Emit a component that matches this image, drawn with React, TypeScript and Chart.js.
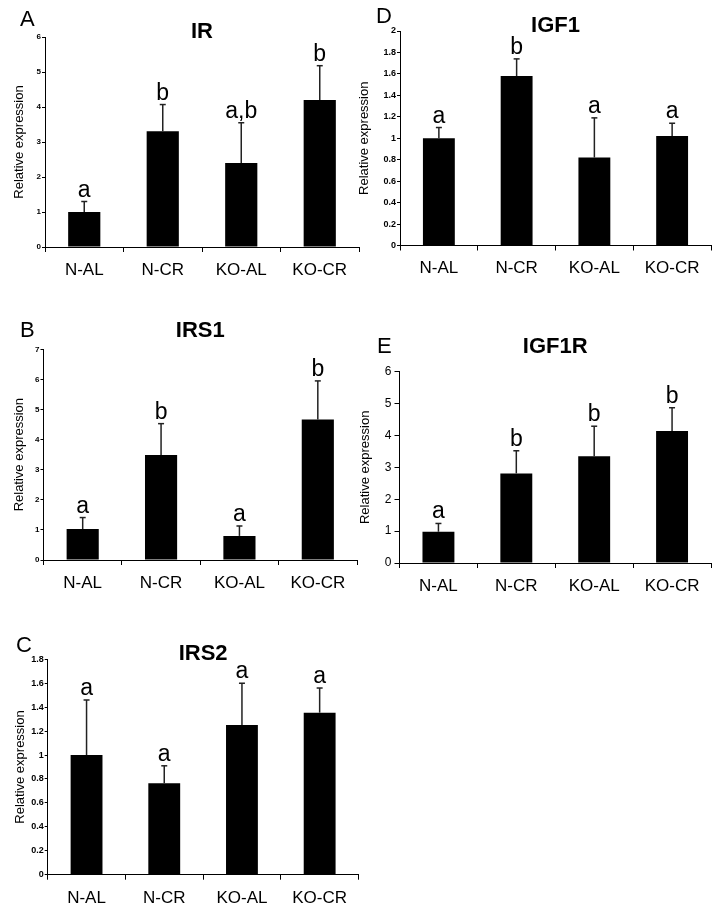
import React, { useEffect, useRef } from "react";
import { Chart, registerables } from "chart.js";
Chart.register(...registerables);

const categories = ["N-AL", "N-CR", "KO-AL", "KO-CR"];

// Panel A - IR
const irMeans = [1.0, 3.31, 2.4, 4.2];
const irErrors = [0.3, 0.76, 1.15, 0.98];
const irLetters = ["a", "b", "a,b", "b"];
const irTicks = [0, 1, 2, 3, 4, 5, 6];

// Panel B - IRS1
const irs1Means = [1.03, 3.49, 0.8, 4.67];
const irs1Errors = [0.38, 1.04, 0.33, 1.28];
const irs1Letters = ["a", "b", "a", "b"];
const irs1Ticks = [0, 1, 2, 3, 4, 5, 6, 7];

// Panel C - IRS2
const irs2Means = [1.0, 0.765, 1.25, 1.354];
const irs2Errors = [0.46, 0.145, 0.35, 0.206];
const irs2Letters = ["a", "a", "a", "a"];
const irs2Ticks = [0, 0.2, 0.4, 0.6, 0.8, 1, 1.2, 1.4, 1.6, 1.8];

// Panel D - IGF1
const igf1Means = [1.0, 1.58, 0.82, 1.02];
const igf1Errors = [0.1, 0.16, 0.37, 0.12];
const igf1Letters = ["a", "b", "a", "a"];
const igf1Ticks = [0, 0.2, 0.4, 0.6, 0.8, 1, 1.2, 1.4, 1.6, 1.8, 2];

// Panel E - IGF1R
const igf1rMeans = [0.98, 2.81, 3.35, 4.14];
const igf1rErrors = [0.26, 0.71, 0.94, 0.73];
const igf1rLetters = ["a", "b", "b", "b"];
const igf1rTicks = [0, 1, 2, 3, 4, 5, 6];

const yTitle = "Relative expression";
const FONT = '"Liberation Sans", Arial, Helvetica, sans-serif';

type Panel = {
  letter: string;
  title: string;
  means: number[];
  errors: number[];
  letters: string[];
  ticks: number[];
  // layout
  left: number;
  top: number;
  width: number;
  height: number;
  pad: { left: number; top: number; right: number; bottom: number };
  yWidth: number;
  yTitlePad: number;
  tickFont: { size: number; weight: string };
  tickLen: number;
  tickPad: number;
  letterPos: [number, number];
  titleY: number;
};

const panels: Panel[] = [
  {
    letter: "A", title: "IR", means: irMeans, errors: irErrors, letters: irLetters, ticks: irTicks,
    left: 0, top: 0, width: 360, height: 290,
    pad: { left: 2, top: 37, right: 1, bottom: 13 }, yWidth: 43, yTitlePad: 9.7,
    tickFont: { size: 8, weight: "bold" }, tickLen: 3, tickPad: 1,
    letterPos: [20, 26], titleY: 38,
  },
  {
    letter: "D", title: "IGF1", means: igf1Means, errors: igf1Errors, letters: igf1Letters, ticks: igf1Ticks,
    left: 350, top: 0, width: 366, height: 290,
    pad: { left: 2, top: 31, right: 5, bottom: 14.5 }, yWidth: 48, yTitlePad: 4.7,
    tickFont: { size: 9, weight: "bold" }, tickLen: 3, tickPad: 1,
    letterPos: [376, 23], titleY: 32,
  },
  {
    letter: "B", title: "IRS1", means: irs1Means, errors: irs1Errors, letters: irs1Letters, ticks: irs1Ticks,
    left: 0, top: 290, width: 360, height: 310,
    pad: { left: 2, top: 59.3, right: 3, bottom: 10 }, yWidth: 41.5, yTitlePad: 9.2,
    tickFont: { size: 8, weight: "bold" }, tickLen: 3, tickPad: 1,
    letterPos: [20, 337], titleY: 337,
  },
  {
    letter: "E", title: "IGF1R", means: igf1rMeans, errors: igf1rErrors, letters: igf1rLetters, ticks: igf1rTicks,
    left: 350, top: 290, width: 366, height: 310,
    pad: { left: 2, top: 81.7, right: 5, bottom: 7 }, yWidth: 47.5, yTitlePad: 5.2,
    tickFont: { size: 12, weight: "normal" }, tickLen: 5, tickPad: 3,
    letterPos: [377, 353], titleY: 353,
  },
  {
    letter: "C", title: "IRS2", means: irs2Means, errors: irs2Errors, letters: irs2Letters, ticks: irs2Ticks,
    left: 0, top: 600, width: 360, height: 319,
    pad: { left: 2, top: 59.3, right: 1.5, bottom: 14.3 }, yWidth: 45.7, yTitlePad: 10.2,
    tickFont: { size: 9, weight: "bold" }, tickLen: 3, tickPad: 1,
    letterPos: [16, 652], titleY: 660,
  },
];

function makePlugin(p: Panel) {
  return {
    id: "errAndText" + p.letter,
    afterDatasetsDraw(chart: any) {
      const { ctx } = chart;
      const meta = chart.getDatasetMeta(0);
      const y = chart.scales.y;
      const data = chart.data.datasets[0].data as number[];
      ctx.save();
      meta.data.forEach((bar: any, i: number) => {
        const topPx = y.getPixelForValue(data[i] + p.errors[i]);
        ctx.strokeStyle = "#222";
        ctx.lineWidth = 1.5;
        ctx.beginPath();
        ctx.moveTo(bar.x, bar.y);
        ctx.lineTo(bar.x, topPx);
        ctx.stroke();
        ctx.beginPath();
        ctx.moveTo(bar.x - 3, topPx);
        ctx.lineTo(bar.x + 3, topPx);
        ctx.stroke();
        ctx.fillStyle = "#000";
        ctx.font = `23px ${FONT}`;
        ctx.textAlign = "center";
        ctx.textBaseline = "alphabetic";
        ctx.fillText(p.letters[i], bar.x, topPx - 5);
      });
      ctx.restore();
    },
    afterDraw(chart: any) {
      const { ctx, chartArea } = chart;
      ctx.save();
      ctx.fillStyle = "#000";
      ctx.textBaseline = "alphabetic";
      ctx.textAlign = "left";
      ctx.font = `22px ${FONT}`;
      ctx.fillText(p.letter, p.letterPos[0] - p.left, p.letterPos[1] - p.top);
      ctx.textAlign = "center";
      ctx.font = `bold 22px ${FONT}`;
      ctx.fillText(p.title, (chartArea.left + chartArea.right) / 2, p.titleY - p.top);
      ctx.restore();
    },
  };
}

function PanelChart({ p }: { p: Panel }) {
  const ref = useRef<HTMLCanvasElement>(null);
  useEffect(() => {
    if (!ref.current) return;
    const chart = new Chart(ref.current, {
      type: "bar",
      data: {
        labels: categories,
        datasets: [
          {
            data: p.means,
            backgroundColor: "#000",
            borderWidth: 0,
            barPercentage: 0.41,
            categoryPercentage: 1,
          },
        ],
      },
      options: {
        responsive: false,
        animation: false,
        devicePixelRatio: 1,
        layout: { padding: p.pad },
        plugins: { legend: { display: false }, tooltip: { enabled: false }, title: { display: false } },
        scales: {
          x: {
            grid: { drawOnChartArea: false, drawTicks: true, tickLength: 5, color: "#000", offset: true },
            border: { color: "#000", width: 1 },
            ticks: {
              color: "#000",
              font: { family: FONT, size: 17 },
              padding: 8,
              maxRotation: 0,
              autoSkip: false,
            },
            afterFit: (s: any) => {
              s.height = 30;
            },
          },
          y: {
            min: p.ticks[0],
            max: p.ticks[p.ticks.length - 1],
            grid: { drawOnChartArea: false, drawTicks: true, tickLength: p.tickLen, color: "#000" },
            border: { color: "#000", width: 1 },
            ticks: {
              color: "#000",
              font: { family: FONT, size: p.tickFont.size, weight: p.tickFont.weight as any },
              padding: p.tickPad,
              callback: (v: any) => String(v),
            },
            afterBuildTicks: (s: any) => {
              s.ticks = p.ticks.map((v) => ({ value: v }));
            },
            afterFit: (s: any) => {
              s.width = p.yWidth;
            },
            title: {
              display: true,
              text: yTitle,
              color: "#000",
              font: { family: FONT, size: 13 },
              padding: { top: p.yTitlePad, bottom: 0 },
            },
          },
        },
      },
      plugins: [makePlugin(p)],
    });
    return () => chart.destroy();
  }, [p]);
  return (
    <canvas
      ref={ref}
      width={p.width}
      height={p.height}
      style={{ position: "absolute", left: p.left, top: p.top, width: p.width, height: p.height }}
    />
  );
}

export default function App() {
  return (
    <div style={{ position: "absolute", left: 0, top: 0, width: 716, height: 919, background: "#fff" }}>
      {panels.map((p) => (
        <PanelChart key={p.letter} p={p} />
      ))}
    </div>
  );
}
